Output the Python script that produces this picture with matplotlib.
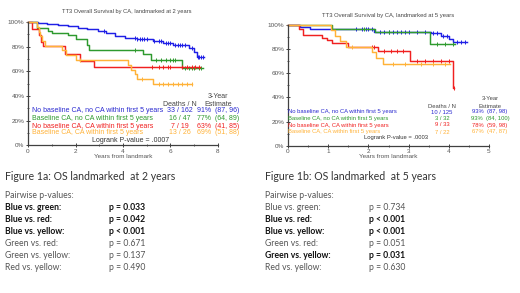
import numpy as np
import matplotlib.pyplot as plt
from matplotlib.ticker import MultipleLocator, FuncFormatter

W, H = 520, 293

# colours of the four groups
cols = ['#1f1fe6', '#2e9a2e', '#f02020', '#ffb238']
txtcols = ['#2a2ad0', '#2e9a2e', '#f02020', '#ffb238']
groups = ['No baseline CA, no CA within first 5 years',
          'Baseline CA, no CA within first 5 years',
          'No baseline CA, CA within first 5 years',
          'Baseline CA, CA within first 5 years']

# ---- landmark 2 years
a_blue_t = [0.4, 0.8, 1.25, 1.7, 2.1, 2.5, 2.95, 3.3, 3.66, 4.08, 4.6, 5.26, 5.7, 6.1, 6.8, 7.0, 7.1]
a_blue_s = [99.5, 98.5, 97.5, 96.5, 95.4, 94, 92.7, 91, 89, 87, 86, 84.6, 83, 81, 79, 76, 71.6]
a_blue_end = 7.4
a_blue_c = [3.2, 4.5, 4.6, 4.7, 4.8, 4.9, 5.0, 5.3, 5.5, 5.6, 5.8, 5.9, 6.0, 6.2, 6.3, 6.4, 6.5, 6.6, 6.9, 7.15, 7.2, 7.3, 7.35]
a_green_t = [0.37, 0.84, 1.0, 1.7, 2.0, 2.47, 2.57, 4.85, 5.17, 6.5]
a_green_s = [95, 92.7, 91, 89.5, 86, 81, 77.5, 74, 69, 62.7]
a_green_end = 7.35
a_green_c = [4.5, 5.4, 5.6, 5.8, 6.0, 6.1, 6.2, 6.6, 6.8, 6.9, 7.0, 7.2, 7.3]
a_red_t = [0.17, 0.45, 0.55, 0.63, 1.56, 2.19, 2.8]
a_red_s = [94.7, 89.5, 84.2, 80.5, 73.7, 68.4, 63.2]
a_red_end = 7.25
a_red_c = [5.2, 5.5, 5.7, 5.9, 6.0, 6.5, 6.7, 6.9, 7.05, 7.2]
a_yel_t = [0.37, 0.48, 0.52, 0.6, 0.72, 1.45, 1.62, 2.0, 4.2, 4.35, 4.5, 4.6, 5.28]
a_yel_s = [96.2, 92.3, 88.5, 84.6, 80.8, 77.5, 73.5, 69.5, 65, 61, 57.5, 54, 50]
a_yel_end = 6.9
a_yel_c = [2.2, 4.8, 5.5, 5.7, 5.9, 6.1, 6.3, 6.5, 6.7, 6.9]

# ---- landmark 5 years
b_blue_t = [0.3, 0.55, 2.15, 3.55, 3.8, 4.0, 4.1]
b_blue_s = [98.6, 96.8, 94.0, 93.0, 91.0, 88.5, 86.0]
b_blue_end = 4.45
b_blue_c = [1.7, 1.85, 1.95, 2.0, 2.1, 2.3, 2.4, 2.5, 2.6, 2.7, 2.8, 2.9, 3.0, 3.2, 3.4, 3.6, 3.7, 3.85, 3.95, 4.2, 4.3, 4.4]
b_green_t = [1.09, 2.16, 3.53]
b_green_s = [97.0, 93.8, 84.2]
b_green_end = 4.15
b_green_c = [1.9, 2.5, 3.7, 3.9, 4.1]
b_red_t = [0.28, 0.38, 0.84, 0.96, 1.1, 1.5, 2.25, 3.03, 4.1]
b_red_s = [97.0, 91.7, 89.0, 87.5, 84.8, 82.0, 78.3, 70.4, 47.5]
b_red_end = 4.13
b_red_c = [2.1, 2.15, 2.4, 2.55, 2.7, 2.85, 3.2, 3.4, 3.6, 3.8, 4.0, 4.13]
b_yel_t = [1.08, 1.17, 1.3, 1.45, 2.08, 2.2, 2.37]
b_yel_s = [95.5, 90.9, 86.4, 82.0, 77.3, 72.7, 67.4]
b_yel_end = 4.03
b_yel_c = [1.6, 2.6, 2.9, 3.3, 3.6, 3.9]

a_deaths = ['33 / 162', '16 / 47', '7 / 19', '13 / 26']
a_est = ['91%  (87, 96)', '77%  (64, 89)', '63%  (41, 85)', '69%  (51, 88)']
b_deaths = ['10 / 125', '3 / 32', '9 / 33', '7 / 22']
b_est = ['93%  (87, 98)', '93%  (84, 100)', '78%  (59, 98)', '67%  (47, 87)']

a_pairs = ['Blue vs. green:', 'Blue vs. red:', 'Blue vs. yellow:', 'Green vs. red:', 'Green vs. yellow:', 'Red vs. yellow:']
a_pvals = ['p = 0.033', 'p = 0.042', 'p < 0.001', 'p = 0.671', 'p = 0.137', 'p = 0.490']
a_bold = [True, True, True, False, False, False]
b_pvals = ['p = 0.734', 'p < 0.001', 'p < 0.001', 'p = 0.051', 'p = 0.031', 'p = 0.630']
b_bold = [False, True, True, False, True, False]


def km(ax, t, s, end, c, col):
    tt = np.r_[0, t, end]
    ss = np.r_[100, s, s[-1]]
    ax.plot(tt, ss, drawstyle='steps-post', color=col, lw=1.05, clip_on=False)
    c = np.array(c)
    idx = np.searchsorted(tt, c, side='right') - 1
    ax.plot(c, ss[idx], ls='none', marker='|', ms=2.6, mew=0.7, color=col, clip_on=False)


def fx(x):
    return x / W


def fy(y):
    return 1 - y / H


fig = plt.figure(figsize=(W / 100, H / 100), dpi=100)
plt.rcParams['font.family'] = ['Liberation Sans', 'DejaVu Sans']

axa = fig.add_axes([fx(28), fy(145.5), 190 / W, 123.5 / H])
axb = fig.add_axes([fx(288), fy(145.7), 201 / W, 120.7 / H])

km(axa, a_blue_t, a_blue_s, a_blue_end, a_blue_c, cols[0])
km(axa, a_green_t, a_green_s, a_green_end, a_green_c, cols[1])
km(axa, a_red_t, a_red_s, a_red_end, a_red_c, cols[2])
km(axa, a_yel_t, a_yel_s, a_yel_end, a_yel_c, cols[3])

km(axb, b_blue_t, b_blue_s, b_blue_end, b_blue_c, cols[0])
km(axb, b_green_t, b_green_s, b_green_end, b_green_c, cols[1])
km(axb, b_red_t, b_red_s, b_red_end, b_red_c, cols[2])
km(axb, b_yel_t, b_yel_s, b_yel_end, b_yel_c, cols[3])

for ax, xmax, xmaj, xmin in [(axa, 8, 2, 1), (axb, 5, 1, 0.5)]:
    ax.set_xlim(0, xmax)
    ax.set_ylim(0, 100)
    for sp in ['top', 'right']:
        ax.spines[sp].set_visible(False)
    for sp in ['left', 'bottom']:
        ax.spines[sp].set_color('#404040')
        ax.spines[sp].set_linewidth(0.9)
    ax.xaxis.set_major_locator(MultipleLocator(xmaj))
    ax.xaxis.set_minor_locator(MultipleLocator(xmin))
    ax.yaxis.set_major_locator(MultipleLocator(20))
    ax.yaxis.set_minor_locator(MultipleLocator(10))
    ax.yaxis.set_major_formatter(FuncFormatter(lambda v, p: '%d%%' % v))
    ax.tick_params(which='major', direction='inout', length=3, width=0.7, color='#404040',
                   labelsize=4.6, labelcolor='#555555', pad=1)
    ax.tick_params(which='minor', direction='inout', length=2, width=0.6, color='#404040')
    ax.set_xlabel('Years from landmark', fontsize=4.6, color='#555555', labelpad=0)

fig.text(fx(127), fy(12), 'TT3 Overall Survival by CA, landmarked at 2 years', fontsize=4.15,
         color='#444444', ha='center', va='center')
fig.text(fx(388), fy(16), 'TT3 Overall Survival by CA, landmarked at 5 years', fontsize=4.25,
         color='#444444', ha='center', va='center')

# in-plot legends
panels = [
    dict(x0=32, xd=180, xe=218, yhead=97, rows=[110, 118, 126, 133], ylr=140, xlr=131,
         deaths=a_deaths, est=a_est, fs=5.0, pv='Logrank P-value = .0007'),
    dict(x0=288, xd=442, xe=490, yhead=99, rows=[112, 118.5, 125, 132], ylr=138, xlr=396,
         deaths=b_deaths, est=b_est, fs=4.2, pv='Logrank P-value = .0003'),
]
for p in panels:
    fs = p['fs']
    fig.text(fx(p['xe']), fy(p['yhead']), '3-Year', fontsize=fs, color='#444444', ha='center', va='center')
    fig.text(fx(p['xe']), fy(p['yhead'] + 7), 'Estimate', fontsize=fs, color='#444444', ha='center', va='center')
    fig.text(fx(p['xd']), fy(p['yhead'] + 7), 'Deaths / N', fontsize=fs, color='#444444', ha='center', va='center')
    for i in range(4):
        y = fy(p['rows'][i])
        fig.text(fx(p['x0']), y, groups[i], fontsize=fs, color=txtcols[i], ha='left', va='center')
        fig.text(fx(p['xd']), y, p['deaths'][i], fontsize=fs, color=txtcols[i], ha='center', va='center')
        fig.text(fx(p['xe']), y, p['est'][i], fontsize=fs, color=txtcols[i], ha='center', va='center')
    fig.text(fx(p['xlr']), fy(p['ylr']), p['pv'], fontsize=fs, color='#333333', ha='center', va='center')

# captions and pairwise p-values
cap_font = ['Lato', 'DejaVu Sans']
for x0, cap, pv, bold in [(5, 'Figure 1a: OS landmarked  at 2 years', a_pvals, a_bold),
                          (265, 'Figure 1b: OS landmarked  at 5 years', b_pvals, b_bold)]:
    fig.text(fx(x0), fy(177), cap, fontsize=7.6, color='#333333', ha='left', va='center', family=cap_font)
    fig.text(fx(x0), fy(195), 'Pairwise p-values:', fontsize=6.2, color='#555555', ha='left',
             va='center', family=cap_font)
    for i in range(6):
        y = fy(207.5 + i * 12.1)
        w = 'bold' if bold[i] else 'normal'
        c = '#111111' if bold[i] else '#555555'
        fig.text(fx(x0), y, a_pairs[i], fontsize=6.2, color=c, weight=w, ha='left', va='center', family=cap_font)
        fig.text(fx(x0 + 104), y, pv[i], fontsize=6.2, color=c, weight=w, ha='left', va='center', family=cap_font)

fig.savefig('out.png', dpi=100)
